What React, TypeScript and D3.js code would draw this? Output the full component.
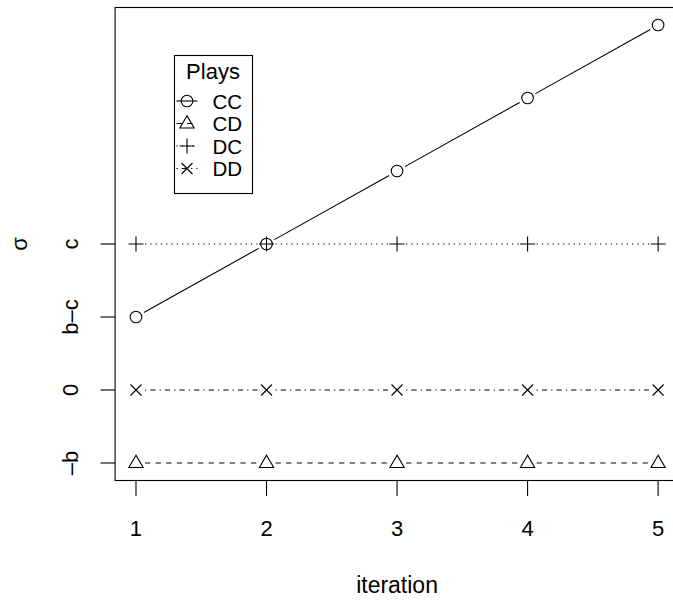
import React from 'react';
import * as d3 from 'd3';

// data
const iterations = [1, 2, 3, 4, 5];
const ccValues = [1, 2, 3, 4, 5];
const cdValues = [-1, -1, -1, -1, -1];
const dcValues = [2, 2, 2, 2, 2];
const ddValues = [0, 0, 0, 0, 0];
const yTickValues = [-1, 0, 1, 2];
const yTickLabels = ['\u2013b', '0', 'b\u2013c', 'c'];
const seriesNames = ['CC', 'CD', 'DC', 'DD'];

const W = 673, H = 602;
const FONT = 'Liberation Sans, Arial, Helvetica, sans-serif';
const FS = 22;

type Pch = 'circle' | 'triangle' | 'plus' | 'cross';

const series: { name: string; values: number[]; pch: Pch; dash: string }[] = [
  { name: seriesNames[0], values: ccValues, pch: 'circle', dash: '' },
  { name: seriesNames[1], values: cdValues, pch: 'triangle', dash: '5.3,5.3' },
  { name: seriesNames[2], values: dcValues, pch: 'plus', dash: '1.3,4' },
  { name: seriesNames[3], values: ddValues, pch: 'cross', dash: '1.3,4,5.3,4' },
];

function Symbol({ x, y, pch }: { x: number; y: number; pch: Pch }) {
  const s = { stroke: '#000', strokeWidth: 1.1, fill: 'none' };
  if (pch === 'circle') return <circle cx={x} cy={y} r={5.8} {...s} />;
  if (pch === 'triangle') {
    const r = 8.2;
    const pts = [[x, y - r * 0.95], [x - r * 0.87, y + r * 0.55], [x + r * 0.87, y + r * 0.55]];
    return <polygon points={pts.map(p => p.join(',')).join(' ')} {...s} />;
  }
  if (pch === 'plus') {
    const r = 7.5;
    return <path d={`M${x - r},${y}H${x + r}M${x},${y - r}V${y + r}`} {...s} />;
  }
  const r = 5.5;
  return <path d={`M${x - r},${y - r}L${x + r},${y + r}M${x - r},${y + r}L${x + r},${y - r}`} {...s} />;
}

export default function App() {
  // R style 4% padding on both axes
  const x = d3.scaleLinear().domain([0.84, 5.16]).range([115.1, 679]);
  const y = d3.scaleLinear().domain([-1.24, 5.24]).range([480.5, 7.5]);

  const gap = 9;
  const segs = (vals: number[]) => {
    const out: string[] = [];
    for (let i = 0; i < vals.length - 1; i++) {
      const x0 = x(iterations[i]), y0 = y(vals[i]);
      const x1 = x(iterations[i + 1]), y1 = y(vals[i + 1]);
      const len = Math.hypot(x1 - x0, y1 - y0);
      const ux = (x1 - x0) / len, uy = (y1 - y0) / len;
      out.push(`M${x0 + ux * gap},${y0 + uy * gap}L${x1 - ux * gap},${y1 - uy * gap}`);
    }
    return out.join('');
  };

  const lx = 174.5, ly = 55.5, lw = 78, lh = 138;

  return (
    <svg width={W} height={H} style={{ position: 'absolute', left: 0, top: 0, background: '#fff' }}
      fontFamily={FONT}>
      <rect x={0} y={0} width={W} height={H} fill="#fff" />
      {series.map(s => (
        <g key={s.name}>
          <path d={segs(s.values)} stroke="#000" strokeWidth={1.1} fill="none" strokeDasharray={s.dash || undefined} />
          {s.values.map((v, i) => <Symbol key={i} x={x(iterations[i])} y={y(v)} pch={s.pch} />)}
        </g>
      ))}
      <rect x={x.range()[0]} y={7.5} width={x.range()[1] - x.range()[0]} height={480.5 - 7.5}
        fill="none" stroke="#000" strokeWidth={1.1} />

      {/* x axis */}
      <path d={`M${x(1)},480.5H${x(5)}`} stroke="#000" />
      {iterations.map(t => (
        <g key={t}>
          <line x1={x(t)} x2={x(t)} y1={480.5} y2={496} stroke="#000" strokeWidth={1.1} />
          <text x={x(t)} y={536} textAnchor="middle" fontSize={FS}>{t}</text>
        </g>
      ))}
      <text x={x(3)} y={593} textAnchor="middle" fontSize={FS + 1}>iteration</text>

      {/* y axis */}
      {yTickValues.map((v, i) => (
        <g key={v}>
          <line x1={100.5} x2={115.1} y1={y(v)} y2={y(v)} stroke="#000" strokeWidth={1.1} />
          <text transform={`translate(78,${y(v)}) rotate(-90)`} textAnchor="middle" fontSize={FS}>{yTickLabels[i]}</text>
        </g>
      ))}
      <text transform={`translate(27,${y(2)}) rotate(-90)`} textAnchor="middle" fontSize={FS}>σ</text>

      {/* legend */}
      <rect x={lx} y={ly} width={lw} height={lh} fill="#fff" stroke="#000" strokeWidth={1.1} />
      <text x={lx + 38.5} y={ly + 23.5} textAnchor="middle" fontSize={FS}>Plays</text>
      {series.map((s, i) => {
        const cy = ly + 45.5 + i * 22.5;
        return (
          <g key={s.name}>
            <line x1={lx + 2} x2={lx + 23} y1={cy} y2={cy} stroke="#000" strokeWidth={1.1} strokeDasharray={s.dash || undefined} />
            <Symbol x={lx + 12.5} y={cy} pch={s.pch} />
            <text x={lx + 38} y={cy + 7.5} fontSize={FS - 1.5}>{s.name}</text>
          </g>
        );
      })}
    </svg>
  );
}
